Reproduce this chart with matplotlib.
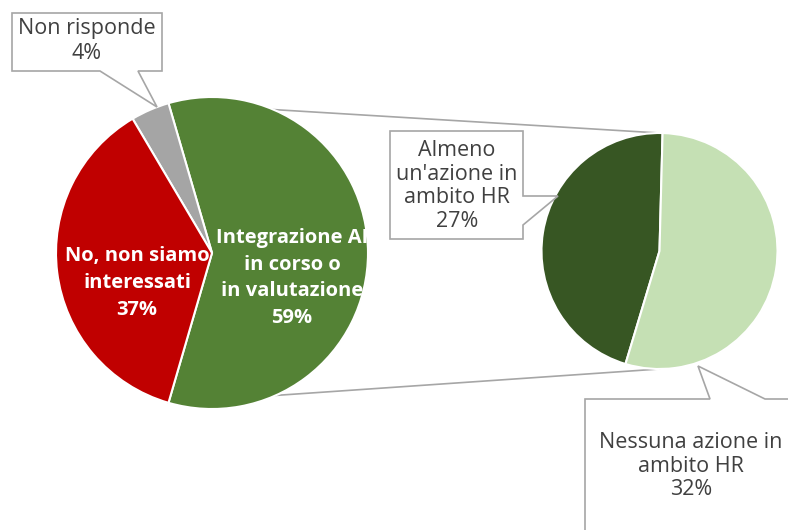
import numpy as np
import matplotlib.pyplot as plt
from matplotlib.patches import Polygon

# main pie
main_labels = ["Integrazione AI\nin corso o\nin valutazione", "Non risponde", "No, non siamo\ninteressati"]
main_values = [59, 4, 37]
main_colors = ["#548235", "#A5A5A5", "#C00000"]

# secondary pie (breakdown of "Integrazione AI")
sub_labels = ["Almeno\nun'azione in\nambito HR", "Nessuna azione in\nambito HR"]
sub_values = [27, 32]
sub_colors = ["#375623", "#C5E0B4"]

W, H = 788, 530
TEXT = "#404040"
LINE = "#A6A6A6"

plt.rcParams["font.family"] = ["Open Sans", "DejaVu Sans"]

fig = plt.figure(figsize=(W / 100, H / 100), dpi=100)
ax = fig.add_axes([0, 0, 1, 1])


def Y(v):
    # image row -> axis y
    return H - v


main_center = (212, Y(253))
main_r = 156
sub_center = (659.5, Y(251))
sub_r = 118

span = main_values[0] / sum(main_values) * 360
main_w, _ = ax.pie(main_values, colors=main_colors, startangle=-span / 2,
                   radius=main_r, center=main_center,
                   wedgeprops=dict(edgecolor="white", linewidth=1.5))

sub_start = 88.5
sub_w, _ = ax.pie(sub_values, colors=sub_colors, startangle=sub_start,
                  radius=sub_r, center=sub_center,
                  wedgeprops=dict(edgecolor="white", linewidth=1.5))

# connector lines from the split slice to the secondary pie
green = main_w[0]
for ang, sub_ang in [(green.theta2, 90), (green.theta1, 270)]:
    x0 = main_center[0] + main_r * np.cos(np.radians(ang))
    y0 = main_center[1] + main_r * np.sin(np.radians(ang))
    x1 = sub_center[0] + sub_r * np.cos(np.radians(sub_ang))
    y1 = sub_center[1] + sub_r * np.sin(np.radians(sub_ang))
    ax.plot([x0, x1], [y0, y1], color=LINE, lw=1.2, zorder=0)

# labels inside the main pie
ax.text(292, Y(278), "{0}\n{1}%".format(main_labels[0], main_values[0]),
        ha="center", va="center", color="white", fontsize=14.5,
        fontweight="bold", linespacing=1.45)
ax.text(137, Y(283), "{0}\n{1}%".format(main_labels[2], main_values[2]),
        ha="center", va="center", color="white", fontsize=14.5,
        fontweight="bold", linespacing=1.45)


def callout(pts):
    poly = Polygon([(x, Y(y)) for x, y in pts], closed=True, facecolor="white",
                   edgecolor=LINE, lw=1.2, zorder=3)
    ax.add_patch(poly)


callout([(12, 13), (162, 13), (162, 71), (138, 71), (157, 107), (100, 71), (12, 71)])
ax.text(87, Y(41), "{0}\n{1}%".format(main_labels[1], main_values[1]),
        ha="center", va="center", color=TEXT, fontsize=15.5, linespacing=1.2, zorder=4)

callout([(390, 131), (523, 131), (523, 196), (558, 196), (523, 225), (523, 239), (390, 239)])
ax.text(457, Y(186), "{0}\n{1}%".format(sub_labels[0], sub_values[0]),
        ha="center", va="center", color=TEXT, fontsize=15.5, linespacing=1.18, zorder=4)

callout([(585, 399), (710, 399), (698, 366), (765, 399), (800, 399), (800, 540), (585, 540)])
ax.text(691, Y(466), "{0}\n{1}%".format(sub_labels[1], sub_values[1]),
        ha="center", va="center", color=TEXT, fontsize=15.5, linespacing=1.15, zorder=4)

ax.set_xlim(0, W)
ax.set_ylim(0, H)
ax.set_aspect("equal")
ax.axis("off")

fig.savefig("out.png", dpi=100)
